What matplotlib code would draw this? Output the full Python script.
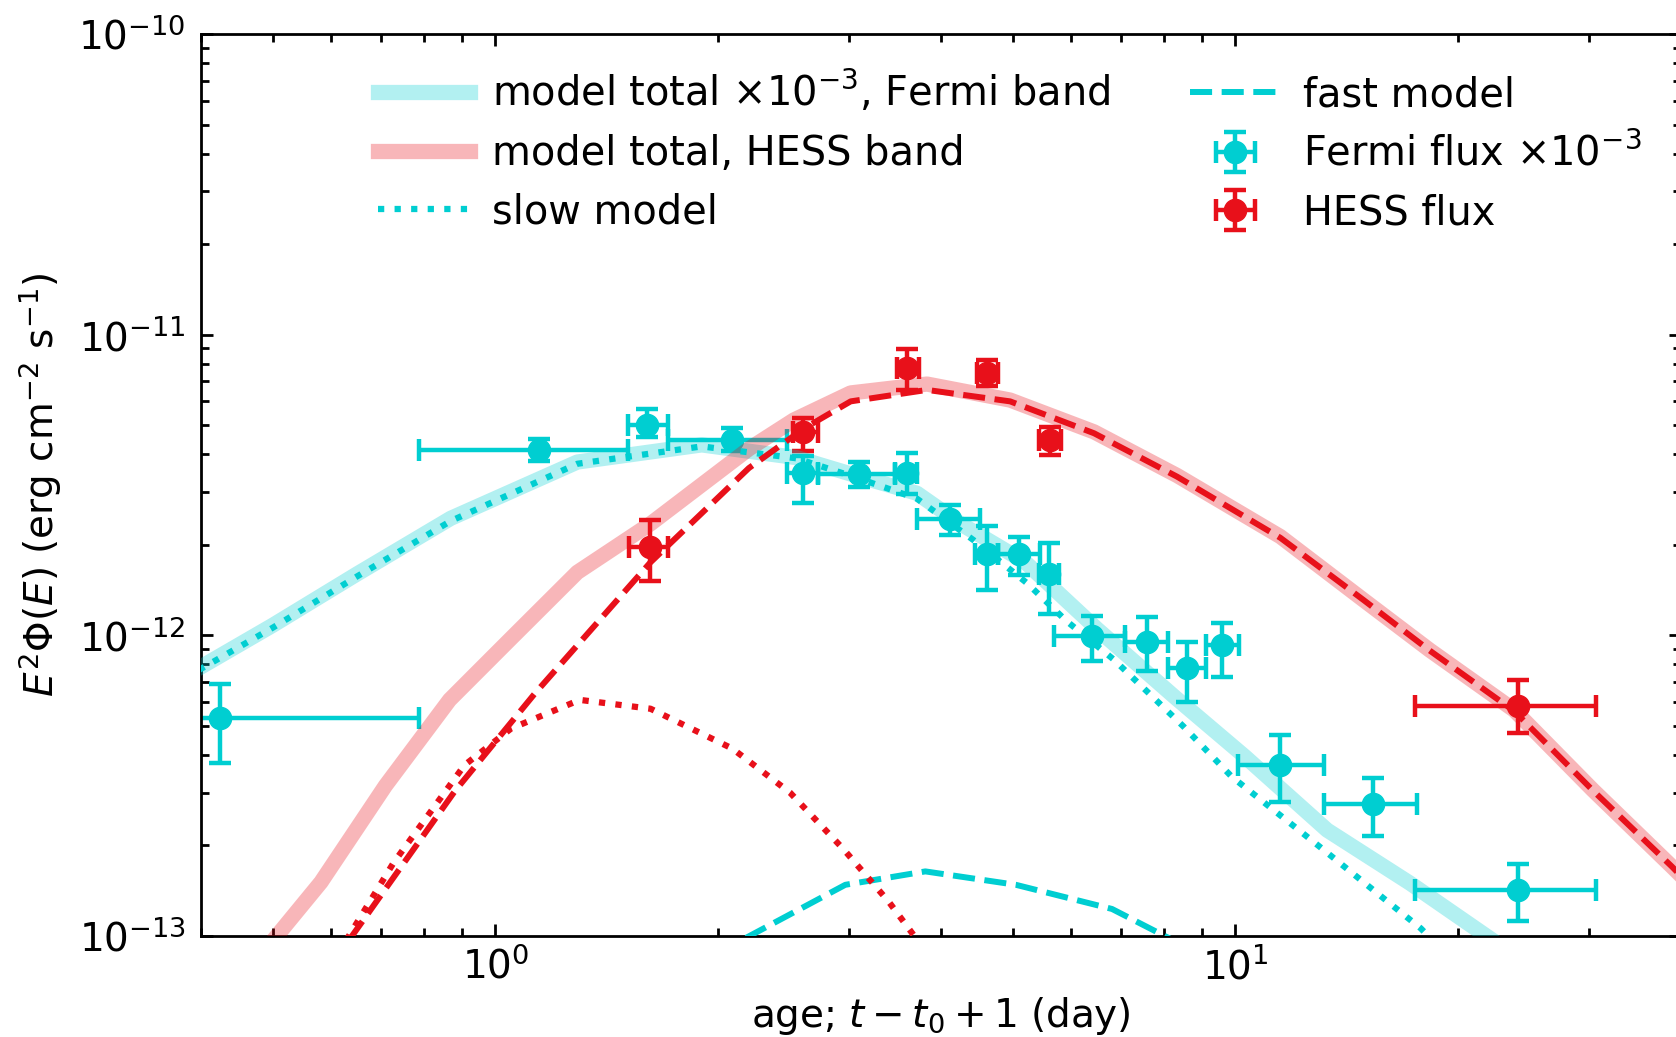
import numpy as np
import matplotlib
matplotlib.use("Agg")
import matplotlib.pyplot as plt
from matplotlib.ticker import NullFormatter

# --- colours ---
CYAN = "#00ced1"
RED = "#e8101a"

# --- model curves (age in days, E^2 Phi in erg cm^-2 s^-1) ---
fermi_total_t = [0.38, 0.5, 0.65, 0.87, 1.29, 1.9, 2.55, 3.07, 3.71, 4.25, 5.2, 6.5, 8.3, 10.3, 13.3, 17.2, 22.5]
fermi_total = [7.3e-13, 1.08e-12, 1.6e-12, 2.45e-12, 3.77e-12, 4.3e-12, 3.9e-12, 3.4e-12, 2.97e-12,
               2.35e-12, 1.75e-12, 1.05e-12, 6.2e-13, 3.95e-13, 2.25e-13, 1.5e-13, 9.5e-14]

fermi_slow_t = [0.38, 0.5, 0.65, 0.87, 1.29, 1.9, 2.55, 3.07, 3.71, 4.43, 5.23, 5.9, 6.85, 8.51, 9.88,
                13.0, 17.8, 19.0]
fermi_slow = [7.2e-13, 1.06e-12, 1.57e-12, 2.4e-12, 3.72e-12, 4.25e-12, 3.88e-12, 3.35e-12, 2.85e-12,
              2.07e-12, 1.49e-12, 1.12e-12, 8.3e-13, 4.97e-13, 3.39e-13, 1.98e-13, 1.06e-13, 9.0e-14]

fermi_fast_t = [2.0, 2.97, 3.81, 5.05, 6.81, 8.5]
fermi_fast = [8.8e-14, 1.48e-13, 1.64e-13, 1.48e-13, 1.23e-13, 9.3e-14]

hess_total_t = [0.47, 0.581, 0.71, 0.867, 1.04, 1.29, 1.62, 2.2, 2.53, 3.02, 3.83, 4.96, 6.44,
                8.34, 11.5, 14.9, 18.3, 23.8, 30.4, 38.9, 42.0]
hess_total = [8.0e-14, 1.51e-13, 3.16e-13, 6.1e-13, 9.55e-13, 1.62e-12, 2.35e-12, 4.17e-12, 5.2e-12,
              6.4e-12, 6.85e-12, 6.06e-12, 4.75e-12, 3.4e-12, 2.13e-12, 1.31e-12, 8.93e-13,
              5.64e-13, 3.06e-13, 1.7e-13, 1.41e-13]

hess_fast_t = [0.6, 0.881, 1.13, 1.62, 2.2, 2.62, 3.02, 3.83, 4.96, 6.44, 8.34, 11.5, 14.9,
               18.3, 23.8, 30.4, 38.9, 42.0]
hess_fast = [8.0e-14, 3.03e-13, 6.4e-13, 1.75e-12, 3.6e-12, 4.9e-12, 6.0e-12, 6.55e-12, 6.0e-12,
             4.7e-12, 3.37e-12, 2.11e-12, 1.31e-12, 8.9e-13, 5.6e-13, 3.05e-13, 1.7e-13, 1.4e-13]

hess_slow_t = [0.58, 0.728, 0.908, 1.05, 1.3, 1.62, 2.09, 2.5, 2.95, 3.4, 3.8]
hess_slow = [7e-14, 1.75e-13, 3.7e-13, 4.9e-13, 6.1e-13, 5.7e-13, 4.2e-13, 3.0e-13, 1.95e-13, 1.3e-13, 9e-14]

# --- Fermi data (x1e-3 already applied) ---
fermi_t = [0.424, 1.146, 1.60, 2.09, 2.60, 3.10, 3.60, 4.12, 4.62, 5.10, 5.60, 6.40, 7.60, 8.59, 9.59,
           11.5, 15.34, 24.1]
fermi_t_lo = [0.2, 0.789, 1.51, 1.713, 2.48, 2.73, 3.47, 3.71, 4.45, 4.77, 5.43, 5.69, 7.08, 8.11, 9.11,
              10.09, 13.16, 17.5]
fermi_t_hi = [0.789, 1.51, 1.713, 2.48, 2.73, 3.47, 3.71, 4.52, 4.77, 5.45, 5.78, 7.08, 8.11, 9.11, 10.1,
              13.16, 17.6, 30.7]
fermi_f = [5.31e-13, 4.13e-12, 5.0e-12, 4.46e-12, 3.47e-12, 3.44e-12, 3.47e-12, 2.43e-12, 1.86e-12,
           1.86e-12, 1.60e-12, 9.95e-13, 9.52e-13, 7.77e-13, 9.28e-13, 3.70e-13, 2.75e-13, 1.42e-13]
fermi_f_lo = [3.76e-13, 3.8e-12, 4.56e-12, 4.11e-12, 2.76e-12, 3.12e-12, 2.95e-12, 2.16e-12, 1.41e-12,
              1.59e-12, 1.18e-12, 8.23e-13, 7.63e-13, 6.02e-13, 7.29e-13, 2.80e-13, 2.15e-13, 1.12e-13]
fermi_f_hi = [6.89e-13, 4.5e-12, 5.65e-12, 4.88e-12, 3.95e-12, 3.78e-12, 4.03e-12, 2.71e-12, 2.31e-12,
              2.13e-12, 2.03e-12, 1.16e-12, 1.15e-12, 9.52e-13, 1.10e-12, 4.65e-13, 3.35e-13, 1.74e-13]

# --- HESS data ---
hess_t = [1.615, 2.604, 3.60, 4.62, 5.61, 24.1]
hess_t_lo = [1.515, 2.52, 3.49, 4.48, 5.43, 17.5]
hess_t_hi = [1.713, 2.73, 3.73, 4.77, 5.81, 30.7]
hess_f = [1.97e-12, 4.75e-12, 7.76e-12, 7.43e-12, 4.46e-12, 5.84e-13]
hess_f_lo = [1.52e-12, 4.11e-12, 6.54e-12, 6.75e-12, 3.98e-12, 4.73e-13]
hess_f_hi = [2.41e-12, 5.28e-12, 8.93e-12, 8.23e-12, 4.94e-12, 7.1e-13]


def asym(v, lo, hi):
    v, lo, hi = np.array(v), np.array(lo), np.array(hi)
    return [v - lo, hi - v]


plt.rcParams["font.size"] = 28
plt.rcParams["mathtext.fontset"] = "dejavusans"

fig = plt.figure(figsize=(16.76, 10.37), dpi=100)
ax = fig.add_axes([201 / 1676, (1037 - 936) / 1037, (1681 - 201) / 1676, (936 - 34) / 1037])

# data points (drawn first so that the translucent bands lie over them)
eb_kw = dict(fmt="o", ms=16, elinewidth=3.2, capsize=8, capthick=3.2, zorder=2)
h_fermi = ax.errorbar(fermi_t, fermi_f, xerr=asym(fermi_t, fermi_t_lo, fermi_t_hi),
                      yerr=asym(fermi_f, fermi_f_lo, fermi_f_hi), color=CYAN, **eb_kw)
h_hess = ax.errorbar(hess_t, hess_f, xerr=asym(hess_t, hess_t_lo, hess_t_hi),
                     yerr=asym(hess_f, hess_f_lo, hess_f_hi), color=RED, **eb_kw)

# model bands
h_fband, = ax.plot(fermi_total_t, fermi_total, color=CYAN, alpha=0.3, lw=11, zorder=3)
h_hband, = ax.plot(hess_total_t, hess_total, color=RED, alpha=0.3, lw=11, zorder=3)

# slow / fast model components
h_slow, = ax.plot(fermi_slow_t, fermi_slow, color=CYAN, ls=":", lw=4.5, zorder=4)
h_fast, = ax.plot(fermi_fast_t, fermi_fast, color=CYAN, ls="--", lw=4.3, zorder=4)
ax.plot(hess_slow_t, hess_slow, color=RED, ls=":", lw=4.5, zorder=4)
ax.plot(hess_fast_t, hess_fast, color=RED, ls="--", lw=4.3, zorder=4)

ax.set_xscale("log")
ax.set_yscale("log")
ax.set_xlim(0.4, 40)
ax.set_ylim(1e-13, 1e-10)

ax.xaxis.set_minor_formatter(NullFormatter())
ax.yaxis.set_minor_formatter(NullFormatter())
ax.tick_params(which="both", direction="in", top=True, right=True, width=2)
ax.tick_params(which="major", length=8.5)
ax.tick_params(which="minor", length=5.5)
ax.tick_params(axis="x", which="major", pad=8)
ax.tick_params(axis="y", which="major", pad=11)
for sp in ax.spines.values():
    sp.set_linewidth(2)

ax.set_xlabel(r"age; $t - t_0 + 1$ (day)", labelpad=6)
ax.set_ylabel(r"$E^2\Phi(E)$ (erg cm$^{-2}$ s$^{-1}$)", labelpad=10)

ax.legend([h_fband, h_hband, h_slow, h_fast, h_fermi, h_hess],
          [r"model total $\times10^{-3}$, Fermi band", "model total, HESS band", "slow model",
           "fast model", r"Fermi flux $\times10^{-3}$", "HESS flux"],
          ncol=2, frameon=False, loc="upper left", bbox_to_anchor=(0.109, 0.9785),
          borderaxespad=0, handlelength=2.3, handletextpad=0.55, columnspacing=2.0,
          labelspacing=0.46, fontsize=28.7)

fig.savefig("out.png", dpi=100)
